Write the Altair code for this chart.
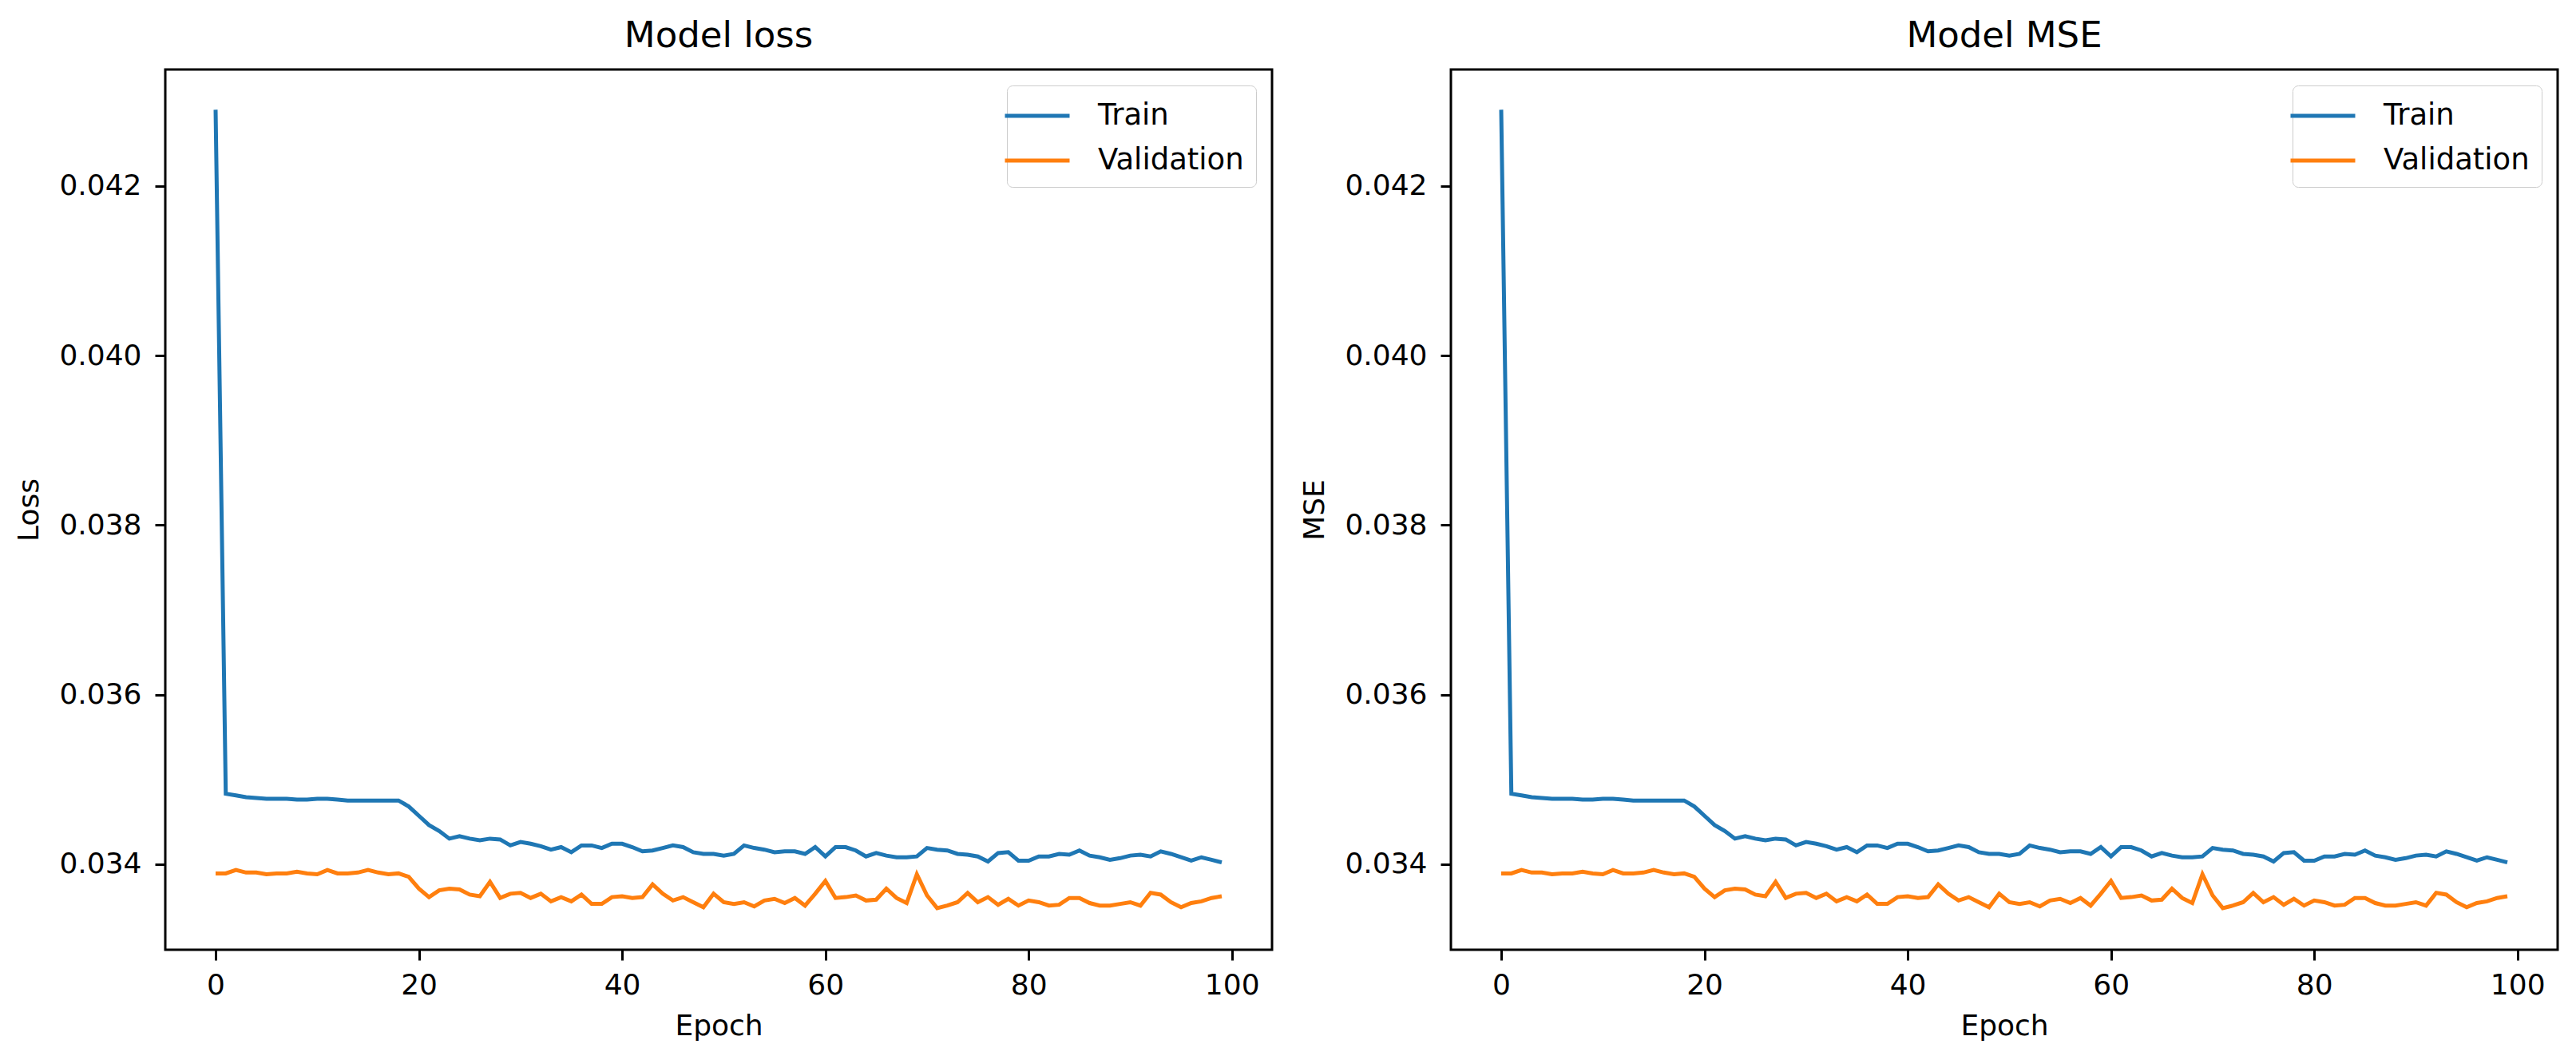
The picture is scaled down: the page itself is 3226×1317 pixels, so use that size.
import altair as alt
import pandas as pd

epochs = list(range(100))

train_loss = [
    0.04290, 0.03483, 0.03481, 0.03479, 0.03478, 0.03477, 0.03477, 0.03477, 0.03476, 0.03476,
    0.03477, 0.03477, 0.03476, 0.03475, 0.03475, 0.03475, 0.03475, 0.03475, 0.03475, 0.03468,
    0.03457, 0.03446, 0.03439, 0.03430, 0.03433, 0.03430, 0.03428, 0.03430, 0.03429, 0.03422,
    0.03426, 0.03424, 0.03421, 0.03417, 0.03420, 0.03414, 0.03422, 0.03422, 0.03419, 0.03424,
    0.03424, 0.03420, 0.03415, 0.03416, 0.03419, 0.03422, 0.03420, 0.03414, 0.03412, 0.03412,
    0.03410, 0.03412, 0.03422, 0.03419, 0.03417, 0.03414, 0.03415, 0.03415, 0.03412, 0.03420,
    0.03409, 0.03420, 0.03420, 0.03416, 0.03409, 0.03413, 0.03410, 0.03408, 0.03408, 0.03409,
    0.03419, 0.03417, 0.03416, 0.03412, 0.03411, 0.03409, 0.03403, 0.03413, 0.03414, 0.03404,
    0.03404, 0.03409, 0.03409, 0.03412, 0.03411, 0.03416, 0.03410, 0.03408, 0.03405, 0.03407,
    0.03410, 0.03411, 0.03409, 0.03415, 0.03412, 0.03408, 0.03404, 0.03408, 0.03405, 0.03402,
]

val_loss = [
    0.03389, 0.03389, 0.03393, 0.03390, 0.03390, 0.03388, 0.03389, 0.03389, 0.03391, 0.03389,
    0.03388, 0.03393, 0.03389, 0.03389, 0.03390, 0.03393, 0.03390, 0.03388, 0.03389, 0.03385,
    0.03371, 0.03361, 0.03369, 0.03371, 0.03370, 0.03364, 0.03362, 0.03379, 0.03360, 0.03365,
    0.03366, 0.03360, 0.03365, 0.03356, 0.03361, 0.03356, 0.03364, 0.03353, 0.03353, 0.03361,
    0.03362, 0.03360, 0.03361, 0.03376, 0.03365, 0.03357, 0.03361, 0.03355, 0.03349, 0.03365,
    0.03355, 0.03353, 0.03355, 0.03350, 0.03357, 0.03359, 0.03354, 0.03360, 0.03351, 0.03365,
    0.03380, 0.03360, 0.03361, 0.03363, 0.03357, 0.03358, 0.03371, 0.03360, 0.03354, 0.03388,
    0.03363, 0.03348, 0.03351, 0.03355, 0.03366, 0.03355, 0.03361, 0.03352, 0.03359, 0.03351,
    0.03357, 0.03355, 0.03351, 0.03352, 0.03360, 0.03360, 0.03354, 0.03351, 0.03351, 0.03353,
    0.03355, 0.03351, 0.03366, 0.03364, 0.03355, 0.03349, 0.03354, 0.03356, 0.03360, 0.03362,
]

train_mse = list(train_loss)
val_mse = list(val_loss)

series_names = ["Train", "Validation"]
series_colors = ["#1f77b4", "#ff7f0e"]
x_ticks = [0, 20, 40, 60, 80, 100]
y_ticks = [0.034, 0.036, 0.038, 0.040, 0.042]

FONT = "DejaVu Sans"


def make_df(train, val):
    return pd.DataFrame({
        "epoch": epochs + epochs,
        "value": train + val,
        "series": [series_names[0]] * len(train) + [series_names[1]] * len(val),
    })


def panel(df, title, ylabel):
    return (
        alt.Chart(
            df,
            title=alt.TitleParams(
                title, fontSize=45, font=FONT, fontWeight="normal",
                color="black", offset=19, anchor="middle",
            ),
        )
        .mark_line(strokeWidth=5)
        .encode(
            x=alt.X(
                "epoch:Q", title="Epoch",
                scale=alt.Scale(domain=[-4.95, 103.95], nice=False, zero=False),
                axis=alt.Axis(values=x_ticks, format="d", labelPadding=14, titlePadding=16),
            ),
            y=alt.Y(
                "value:Q", title=ylabel,
                scale=alt.Scale(domain=[0.032989, 0.043375], nice=False, zero=False),
                axis=alt.Axis(values=y_ticks, format=".3f", labelPadding=17, titlePadding=18),
            ),
            color=alt.Color(
                "series:N",
                scale=alt.Scale(domain=series_names, range=series_colors),
                legend=alt.Legend(
                    title=None, orient="top-right", offset=20,
                    symbolType="M-2,0H2", symbolSize=1640, symbolStrokeWidth=5,
                    labelFontSize=37, labelFont=FONT, labelColor="black", labelLimit=0,
                    labelOffset=53, rowPadding=15, padding=15,
                    fillColor="white", strokeColor="#cccccc", cornerRadius=7,
                ),
            ),
        )
        .properties(width=1386, height=1102)
    )


left = panel(make_df(train_loss, val_loss), "Model loss", "Loss")
right = panel(make_df(train_mse, val_mse), "Model MSE", "MSE")

chart = (
    alt.hconcat(left, right, spacing=224, bounds="flush")
    .resolve_scale(color="independent")
    .properties(padding={"left": 9, "top": 13, "right": 5, "bottom": 5}, background="white")
    .configure_view(stroke="black", strokeWidth=3)
    .configure_axis(
        grid=False, domain=False,
        tickColor="black", tickWidth=3, tickSize=13,
        labelFont=FONT, labelFontSize=36, labelColor="black",
        titleFont=FONT, titleFontSize=36, titleFontWeight="normal", titleColor="black",
    )
)

chart.save("out.html", embed_options={"renderer": "svg", "actions": False})
